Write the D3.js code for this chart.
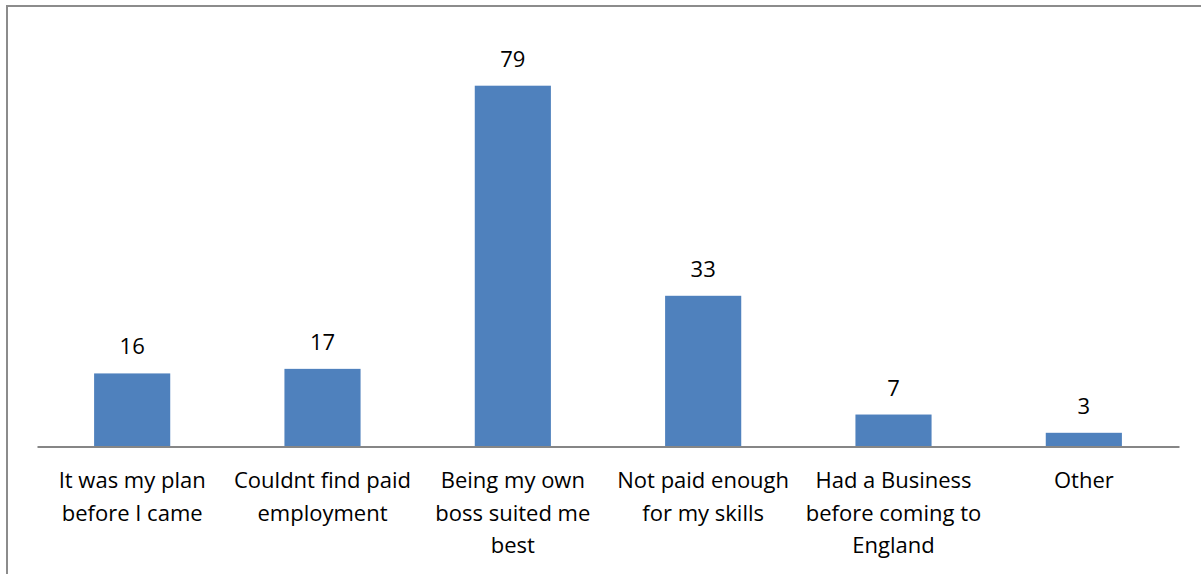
<!DOCTYPE html>
<html>
<head>
<meta charset="utf-8">
<script src="https://cdn.jsdelivr.net/npm/d3@7"></script>
<style>
  html, body { margin: 0; padding: 0; background: #fff; }
  svg { display: block; }
  text { font-family: "Open Sans", "Liberation Sans", sans-serif; fill: #000; }
</style>
</head>
<body>
<svg id="chart" width="1201" height="574"></svg>
<script>
// Reasons for starting a business (number of respondents)
const categories = [
  "It was my plan before I came",
  "Couldnt find paid employment",
  "Being my own boss suited me best",
  "Not paid enough for my skills",
  "Had a Business before coming to England",
  "Other"
];
const categoryLines = [
  ["It was my plan", "before I came"],
  ["Couldnt find paid", "employment"],
  ["Being my own", "boss suited me", "best"],
  ["Not paid enough", "for my skills"],
  ["Had a Business", "before coming to", "England"],
  ["Other"]
];
const values = [16, 17, 79, 33, 7, 3];

const svg = d3.select("#chart");

// Outer chart frame (runs past the right and bottom edges)
svg.append("rect")
  .attr("x", 7).attr("y", 6)
  .attr("width", 1240).attr("height", 620)
  .attr("fill", "none")
  .attr("stroke", "#8c8c8c")
  .attr("stroke-width", 2);

const plot = { left: 37, right: 1179, bottom: 446.5 };

const x = d3.scaleBand()
  .domain(categories)
  .range([plot.left, plot.right]);

const y = d3.scaleLinear()
  .domain([0, 79])
  .range([plot.bottom, 85.7]);

const barW = x.bandwidth() * 0.4;

svg.selectAll("rect.bar")
  .data(values)
  .enter().append("rect")
  .attr("class", "bar")
  .attr("x", (d, i) => x(categories[i]) + (x.bandwidth() - barW) / 2)
  .attr("y", d => y(d))
  .attr("width", barW)
  .attr("height", d => y(0) - y(d))
  .attr("fill", "#4f81bd");

// Value labels above bars
svg.selectAll("text.value")
  .data(values)
  .enter().append("text")
  .attr("class", "value")
  .attr("x", (d, i) => x(categories[i]) + x.bandwidth() / 2)
  .attr("y", d => y(d) - 19)
  .attr("text-anchor", "middle")
  .style("font-size", "22px")
  .text(d => d);

// Category axis line
const xAxis = d3.axisBottom(x).tickSize(0).tickFormat("");
const axisG = svg.append("g")
  .attr("transform", `translate(0,${plot.bottom})`)
  .call(xAxis);
axisG.select(".domain").attr("stroke", "#868686").attr("stroke-width", 2);

// Wrapped category labels
axisG.selectAll(".tick").each(function(d, i) {
  const t = d3.select(this).append("text")
    .attr("text-anchor", "middle")
    .style("font-size", "22px");
  categoryLines[i].forEach((line, j) => {
    t.append("tspan")
      .attr("x", 0)
      .attr("y", 41.5 + j * 32.5)
      .text(line);
  });
});
</script>
</body>
</html>
